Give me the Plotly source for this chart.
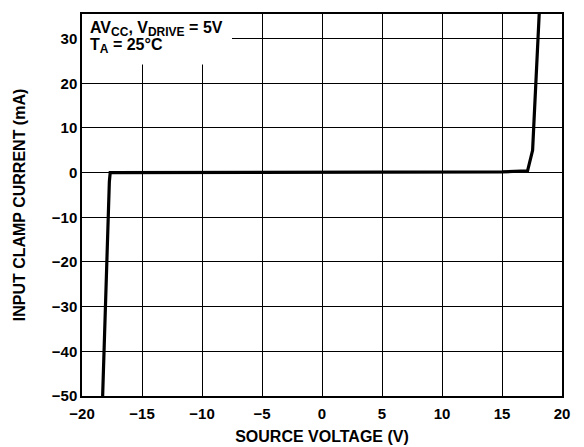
import plotly.graph_objects as go

# Data
voltage = [-18.28, -18.17, -18.06, -17.95, -17.83, -17.77, -17.72, -17.65,
           -10.0, 0.0, 10.0, 12.0, 15.0, 17.13,
           17.55, 17.64, 17.73, 17.83, 17.90, 17.97, 18.10]
current = [-50, -40, -30, -20, -10, -5, -2, 0,
           0, 0, 0, 0.05, 0.15, 0.4,
           5, 10, 15, 20, 25, 30, 35.5]

x_ticks = [-20, -15, -10, -5, 0, 5, 10, 15, 20]
y_ticks = [-50, -40, -30, -20, -10, 0, 10, 20, 30]

FONT = "Liberation Sans, Arial, Helvetica, sans-serif"
SUB = '<sub><span style="font-size:12px">{}</span></sub>'

fig = go.Figure()
fig.add_trace(go.Scatter(x=voltage, y=current, mode="lines",
                         line=dict(color="black", width=3.2),
                         showlegend=False, hoverinfo="skip"))

fig.add_shape(type="rect", xref="x", yref="y", x0=-20, x1=-7.5, y0=24.2, y1=35.5,
              fillcolor="white", line=dict(width=0), layer="between")

ann_font = dict(family=FONT, size=16, color="black", weight="bold")
fig.add_annotation(xref="x", yref="y", x=-19.5, y=32.2, xanchor="left", yanchor="middle",
                   align="left", showarrow=False,
                   text="AV" + SUB.format("CC") + ", V" + SUB.format("DRIVE") + " = 5V",
                   font=ann_font)
fig.add_annotation(xref="x", yref="y", x=-19.5, y=28.3, xanchor="left", yanchor="middle",
                   align="left", showarrow=False,
                   text="T" + SUB.format("A") + " = 25°C",
                   font=ann_font)

axis_common = dict(showline=True, linecolor="black", linewidth=1.5, mirror=True,
                   showgrid=True, gridcolor="black", gridwidth=1, zeroline=False,
                   ticks="", tickfont=dict(family=FONT, size=15, color="black", weight="bold"))

fig.update_xaxes(range=[-20, 20], tickvals=x_ticks, ticklabelstandoff=3, **axis_common,
                 title=dict(text="SOURCE VOLTAGE (V)", standoff=10,
                            font=dict(family=FONT, size=16, color="black", weight="bold")))
fig.update_yaxes(range=[-50, 35.5], tickvals=y_ticks, **axis_common,
                 title=dict(text="INPUT CLAMP CURRENT (mA)", standoff=22,
                            font=dict(family=FONT, size=16, color="black", weight="bold")))

# page body has an 8px default margin; compensate so the plot lands where the reference has it
fig.update_layout(width=576, height=439, margin=dict(l=74, r=22, t=4, b=50),
                  plot_bgcolor="white", paper_bgcolor="white")

fig.write_html("out.html")
